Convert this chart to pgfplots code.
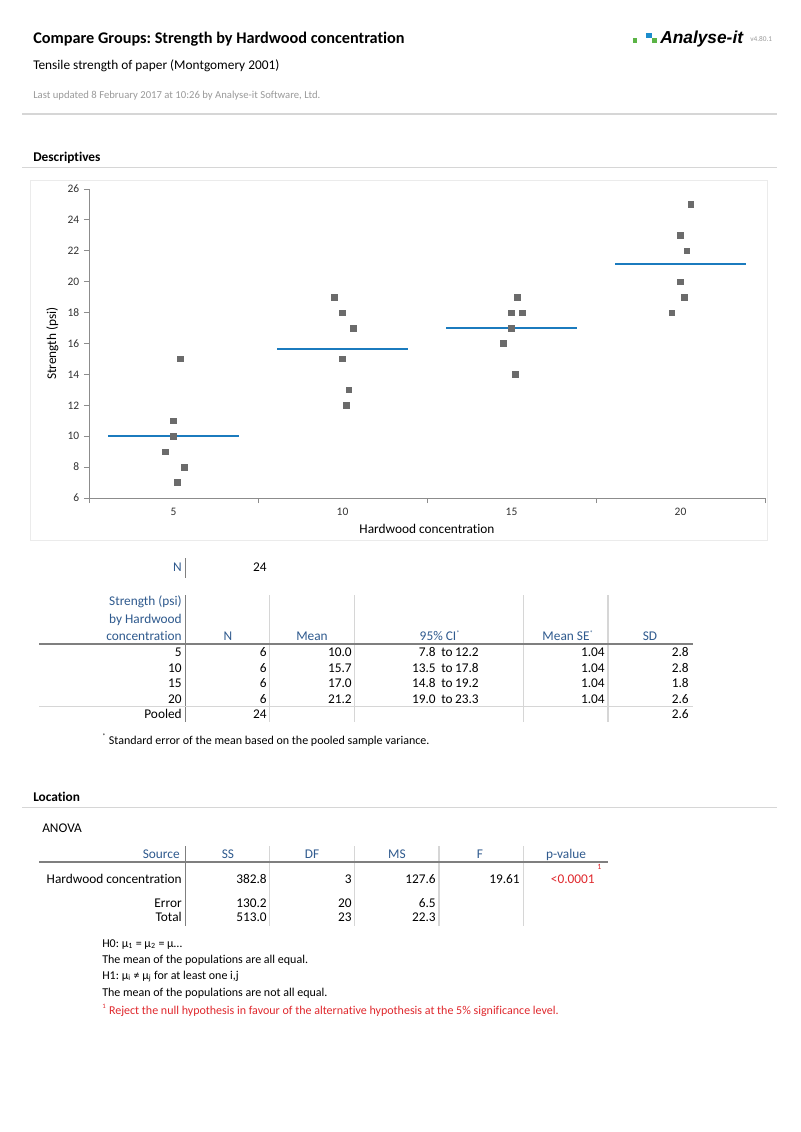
\documentclass[border=0pt]{standalone}
\usepackage{fontspec}
\setmainfont{Carlito}[Ligatures={TeX,NoCommon}]
\newfontfamily\logofont{Liberation Sans}
\usepackage{pgfplots}
\pgfplotsset{compat=1.18}
\frenchspacing

\definecolor{hdrblue}{HTML}{2F5A8E}
\definecolor{meanblue}{HTML}{1B7BBE}
\definecolor{markgray}{HTML}{6B6B6B}
\definecolor{pred}{HTML}{E0282D}
\definecolor{rulegray}{HTML}{D6D6D6}
\definecolor{darkrule}{HTML}{7F7F7F}
\definecolor{txtgray}{HTML}{9A9A9A}
\definecolor{axgray}{HTML}{8C8C8C}
\definecolor{framegray}{HTML}{EBEBEB}
\definecolor{lgreen}{HTML}{5BB446}
\definecolor{lblue}{HTML}{1C8DCC}

% text helpers, coordinates in pixels of the page (y downward)
\newcommand{\Rt}[3]{\node[anchor=base east,inner sep=0pt] at (#1,#2) {#3};}
\newcommand{\Ct}[3]{\node[anchor=base,inner sep=0pt] at (#1,#2) {#3};}
\newcommand{\Lt}[3]{\node[anchor=base west,inner sep=0pt] at (#1,#2) {#3};}
\newcommand{\hb}{\color{hdrblue}}
\newcommand{\sm}{\fontsize{9}{11}\selectfont}

\begin{document}
\begin{tikzpicture}
\begin{scope}[x=0.75pt,y=-0.75pt]
  \fill[white] (0,0) rectangle (800,1132);

  % page header
  \Lt{33}{43}{\fontsize{12.2}{14}\selectfont\bfseries Compare Groups: Strength by Hardwood concentration}
  \Lt{33}{69}{\fontsize{10}{12}\selectfont Tensile strength of paper (Montgomery 2001)}
  \Lt{33}{98}{\fontsize{8}{9}\selectfont\color{txtgray}Last updated 8 February 2017 at 10:26 by Analyse-it Software, Ltd.}
  \fill[lgreen] (632.5,38) rectangle (637,42.5);
  \fill[lblue] (646,33) rectangle (652,38);
  \fill[lgreen] (652,38) rectangle (657,43);
  \Lt{660}{43}{\logofont\fontsize{13}{15}\selectfont\bfseries\itshape Analyse-it}
  \Lt{750}{41}{\fontsize{5.5}{6}\selectfont\color{txtgray}v4.80.1}
  \draw[rulegray,line width=0.9pt] (22,114) -- (777,114);

  \Lt{33}{161}{\fontsize{10}{12}\selectfont\bfseries Descriptives}
  \draw[rulegray,line width=0.75pt] (22,167) -- (777,167);
  \draw[framegray,line width=0.75pt] (30,180) rectangle (767,540);

  % N
  \Rt{182}{571}{\hb N}
  \draw[darkrule,line width=0.6pt] (185.5,558) -- (185.5,578);
  \Rt{267}{571}{24}

  % descriptives table
  \draw[darkrule,line width=0.6pt] (185.5,595) -- (185.5,722);
  \foreach \xx in {269,354,523}{\draw[rulegray,line width=0.75pt] (\xx,595) -- (\xx,722);}
  \draw[rulegray,line width=1.4pt] (608,595) -- (608,722);
  \draw[darkrule,line width=1.4pt] (39,644) -- (693,644);
  \draw[rulegray,line width=0.75pt] (39,706) -- (693,706);
  \Rt{182}{605}{\hb Strength (psi)}
  \Rt{182}{623}{\hb by Hardwood}
  \Rt{182}{640}{\hb concentration}
  \Ct{228}{640}{\hb N}
  \Ct{312}{640}{\hb Mean}
  \Ct{440}{640}{\hb 95\% CI\textsuperscript{\tiny *}}
  \Ct{568}{640}{\hb Mean SE\textsuperscript{\tiny *}}
  \Ct{650}{640}{\hb SD}
  \foreach \g/\n/\m/\lo/\hi/\se/\sd/\yy in {5/6/10.0/7.8/12.2/1.04/2.8/656,
      10/6/15.7/13.5/17.8/1.04/2.8/672, 15/6/17.0/14.8/19.2/1.04/1.8/687,
      20/6/21.2/19.0/23.3/1.04/2.6/703}{
    \Rt{182}{\yy}{\g}
    \Rt{267}{\yy}{\n}
    \Rt{352}{\yy}{\m}
    \Rt{436}{\yy}{\lo}
    \Lt{441}{\yy}{to}
    \Rt{479}{\yy}{\hi}
    \Rt{605}{\yy}{\se}
    \Rt{689}{\yy}{\sd}
  }
  \Rt{182}{718}{Pooled}
  \Rt{267}{718}{24}
  \Rt{689}{718}{2.6}
  \Lt{102}{744}{\sm\textsuperscript{\tiny *} Standard error of the mean based on the pooled sample variance.}

  % location / ANOVA
  \Lt{33}{801}{\fontsize{10}{12}\selectfont\bfseries Location}
  \draw[rulegray,line width=0.75pt] (22,807) -- (777,807);
  \Lt{42}{832}{ANOVA}
  \draw[darkrule,line width=0.6pt] (185.5,846) -- (185.5,926);
  \foreach \xx in {269,354,523}{\draw[rulegray,line width=0.75pt] (\xx,846) -- (\xx,926);}
  \draw[rulegray,line width=1.4pt] (439,846) -- (439,926);
  \draw[darkrule,line width=1.4pt] (39,862) -- (608,862);
  \Rt{180}{858}{\hb Source}
  \Ct{228}{858}{\hb SS}
  \Ct{312}{858}{\hb DF}
  \Ct{397}{858}{\hb MS}
  \Ct{480}{858}{\hb F}
  \Ct{566}{858}{\hb p-value}
  \Rt{182}{883}{Hardwood concentration}
  \Rt{267}{883}{382.8}
  \Rt{352}{883}{3}
  \Rt{436}{883}{127.6}
  \Rt{520}{883}{19.61}
  \Rt{595}{883}{\color{pred}<0.0001}
  \Lt{597}{869}{\color{pred}\fontsize{6}{7}\selectfont 1}
  \Rt{182}{907}{Error}
  \Rt{267}{907}{130.2}
  \Rt{352}{907}{20}
  \Rt{436}{907}{6.5}
  \Rt{182}{921}{Total}
  \Rt{267}{921}{513.0}
  \Rt{352}{921}{23}
  \Rt{436}{921}{22.3}
  \Lt{102}{947}{\sm H0: μ\textsubscript{1} = μ\textsubscript{2} = μ…}
  \Lt{102}{963}{\sm The mean of the populations are all equal.}
  \Lt{102}{979}{\sm H1: μ\textsubscript{i} ≠ μ\textsubscript{j} for at least one i,j}
  \Lt{102}{996}{\sm The mean of the populations are not all equal.}
  \Lt{102}{1014}{\sm\color{pred}\textsuperscript{\tiny 1} Reject the null hypothesis in favour of the alternative hypothesis at the 5\% significance level.}
\end{scope}

\begin{axis}[
    at={(66.75pt,-373.5pt)}, anchor=south west,
    scale only axis,
    width=507pt, height=231.75pt,
    xmin=-0.5, xmax=3.5,
    ymin=6, ymax=26,
    axis x line*=bottom, axis y line*=left,
    axis line style={axgray, line width=0.7pt},
    xtick={-0.5,0.5,1.5,2.5,3.5},
    x tick label as interval,
    xticklabels={5,10,15,20},
    ytick={6,8,...,26},
    tick align=outside,
    major tick length=3.75pt,
    tick style={axgray, line width=0.7pt},
    ticklabel style={font=\fontsize{8.6}{10}\selectfont, text=black!80},
    /pgf/number format/assume math mode=true,
    xlabel={Hardwood concentration},
    ylabel={Strength (psi)},
    label style={font=\fontsize{10}{12}\selectfont},
    clip=false,
]
  % group means
  \addplot[meanblue, line width=1.5pt] coordinates {(-0.3875,10.0) (0.3875,10.0)};
  \addplot[meanblue, line width=1.5pt] coordinates {(0.6125,15.667) (1.3875,15.667)};
  \addplot[meanblue, line width=1.5pt] coordinates {(1.6125,17.0) (2.3875,17.0)};
  \addplot[meanblue, line width=1.5pt] coordinates {(2.6125,21.167) (3.3875,21.167)};
  % observations (jittered horizontally)
  \addplot[only marks, mark=square*, mark size=2.1pt,
           mark options={draw=markgray, fill=markgray}] coordinates {
    (0.040,15) (0.000,11) (0.000,10) (-0.047,9) (0.065,8) (0.024,7)
    (0.951,19) (1.000,18) (1.063,17) (1.000,15) (1.037,13) (1.022,12)
    (2.035,19) (2.000,18) (2.063,18) (2.000,17) (1.953,16) (2.024,14)
    (3.061,25) (3.000,23) (3.037,22) (3.000,20) (3.022,19) (2.949,18)
  };
\end{axis}
\end{tikzpicture}
\end{document}
